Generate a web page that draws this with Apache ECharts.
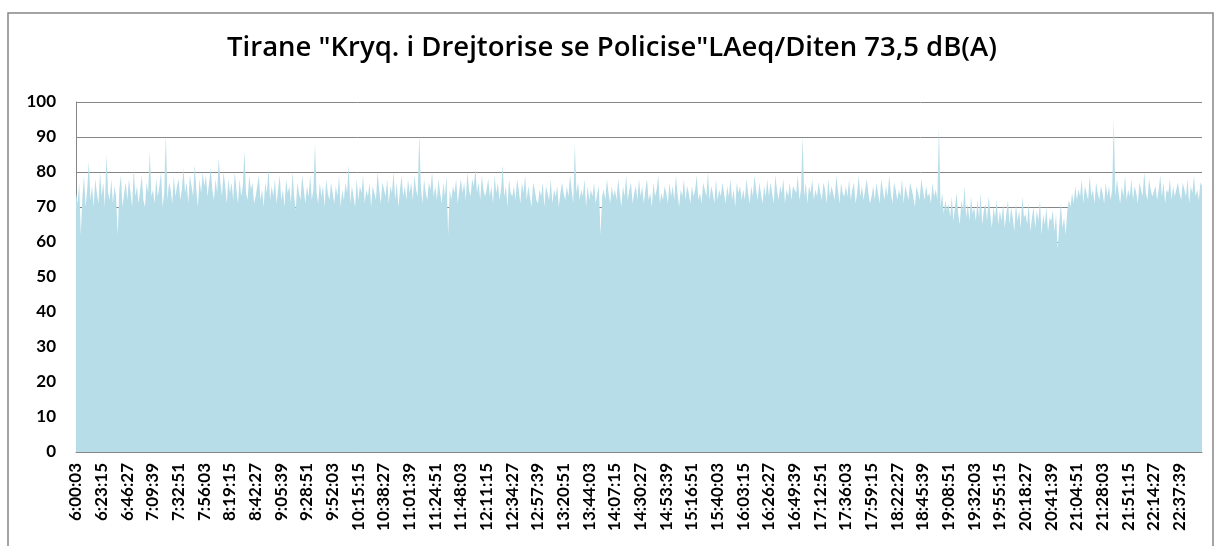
<!DOCTYPE html>
<html>
<head>
<meta charset="utf-8">
<script src="https://cdn.jsdelivr.net/npm/echarts@6/dist/echarts.min.js"></script>
<style>
  html, body { margin: 0; padding: 0; background: #fff; }
  #chart-container { width: 1224px; height: 546px; }
</style>
</head>
<body>
<div id="chart-container"></div>
<script>
const titleText = 'Tirane "Kryq. i Drejtorise se Policise"LAeq/Diten 73,5 dB(A)';

// one label every 16 samples (23:12 apart)
const tickLabels = [
  '6:00:03', '6:23:15', '6:46:27', '7:09:39', '7:32:51', '7:56:03', '8:19:15', '8:42:27',
  '9:05:39', '9:28:51', '9:52:03', '10:15:15', '10:38:27', '11:01:39', '11:24:51', '11:48:03',
  '12:11:15', '12:34:27', '12:57:39', '13:20:51', '13:44:03', '14:07:15', '14:30:27', '14:53:39',
  '15:16:51', '15:40:03', '16:03:15', '16:26:27', '16:49:39', '17:12:51', '17:36:03', '17:59:15',
  '18:22:27', '18:45:39', '19:08:51', '19:32:03', '19:55:15', '20:18:27', '20:41:39', '21:04:51',
  '21:28:03', '21:51:15', '22:14:27', '22:37:39'
];

// LAeq dB(A), one row per label interval
const levels = [
  74,71,77,62,73,79,70,75,83,72,76,70,78,74,71,80,
  73,77,70,85,74,72,78,71,76,73,62,75,79,70,74,77,
  72,78,74,70,81,73,76,71,75,79,72,70,77,74,86,73,
  75,71,78,73,76,80,70,74,91,72,77,75,71,79,73,76,
  78,72,75,81,74,77,71,79,76,73,82,75,70,78,74,80,
  76,79,73,77,81,75,72,78,74,84,77,73,80,76,71,78,
  74,77,72,80,75,71,78,73,76,86,74,72,79,75,77,71,
  73,76,79,72,75,70,77,74,81,72,76,73,78,71,75,79,
  72,75,70,78,74,76,71,80,73,69,77,74,72,79,75,71,
  76,73,79,72,75,88,74,71,77,73,76,70,78,74,72,77,
  74,71,76,73,79,70,75,72,77,74,82,71,76,73,70,78,
  72,76,74,79,71,75,73,77,70,76,74,72,80,75,71,77,
  75,73,78,71,76,74,80,72,77,70,75,79,73,76,72,78,
  74,77,72,79,75,73,91,76,71,78,74,72,77,75,80,73,
  76,72,78,74,71,77,73,79,62,75,72,76,74,78,71,75,
  78,74,77,72,80,75,73,78,76,81,74,77,72,79,75,73,
  75,78,73,76,71,79,74,77,72,75,82,73,76,70,78,74,
  73,76,72,78,75,71,77,74,79,72,76,73,70,77,75,72,
  71,75,73,77,70,76,74,72,78,71,75,73,76,70,74,77,
  74,72,76,73,79,75,71,88,74,77,72,75,73,78,70,76,
  72,75,73,77,71,74,76,62,73,75,72,78,74,71,76,73,
  75,72,78,74,70,76,73,79,72,75,77,71,74,76,72,78,
  73,76,71,75,78,72,74,70,77,73,75,79,71,74,72,76,
  74,71,77,73,76,72,79,74,70,75,73,78,72,76,74,71,
  76,73,75,79,72,74,71,77,75,73,80,72,76,74,71,78,
  72,75,73,77,74,71,76,73,78,72,75,70,77,74,76,72,
  75,72,78,74,71,76,73,79,75,72,77,74,71,76,73,78,
  73,77,74,71,79,75,72,76,74,78,71,75,73,77,72,76,
  76,74,79,72,75,90,73,77,71,76,74,78,72,75,73,77,
  74,72,77,75,71,78,73,76,74,72,79,75,71,77,74,73,
  76,73,78,72,75,77,71,74,79,73,76,72,75,78,74,71,
  73,76,72,77,74,71,78,75,72,76,73,79,74,71,77,75,
  72,75,73,78,71,76,74,72,77,75,73,70,76,74,72,78,
  75,72,76,73,74,71,77,73,75,72,93,70,74,68,72,69,
  71,67,73,66,70,74,68,65,72,69,76,67,71,66,73,68,
  70,66,72,67,74,65,69,71,66,73,68,64,70,67,72,65,
  69,66,71,64,68,72,65,70,67,63,71,66,69,64,73,67,
  68,65,71,63,67,70,64,69,66,72,62,68,65,70,63,67,
  66,69,63,68,58,65,71,64,67,62,69,72,70,74,71,76,
  72,75,73,78,71,76,74,72,79,73,75,71,77,74,72,76,
  74,71,77,73,76,72,75,95,73,78,74,71,76,73,79,72,
  75,73,78,72,76,74,71,77,75,73,80,74,72,78,75,73,
  73,76,72,75,79,73,77,71,75,74,78,72,76,73,75,77,
  74,72,77,75,73,78,71,76,74,79,73,75,72,77,76
];

const perLabel = 16;
const categories = levels.map((v, i) => (i % perLabel === 0 ? tickLabels[i / perLabel] : ''));

const start = () => {
  const chartDom = document.getElementById('chart-container');
  const myChart = echarts.init(chartDom, null, { renderer: 'canvas' });
  const labelFont = { fontFamily: 'Lato', fontWeight: 'bold', fontSize: 17, color: '#000' };
  const option = {
    animation: false,
    backgroundColor: '#fff',
    title: {
      text: titleText,
      left: 'center',
      top: 29,
      textStyle: { fontFamily: 'Open Sans', fontWeight: 600, fontSize: 27.5, color: '#000' }
    },
    graphic: [
      {
        type: 'rect',
        shape: { x: 8, y: 13, width: 1205, height: 560 },
        style: { fill: 'none', stroke: '#868686', lineWidth: 1.5 },
        silent: true
      }
    ],
    grid: { left: 76, right: 22, top: 102, bottom: 94 },
    xAxis: {
      type: 'category',
      data: categories,
      boundaryGap: false,
      axisLine: { lineStyle: { color: '#868686' } },
      axisTick: { show: false },
      axisLabel: Object.assign({ rotate: 90, interval: perLabel - 1, margin: 11 }, labelFont),
      splitLine: { show: false }
    },
    yAxis: {
      type: 'value',
      min: 0,
      max: 100,
      interval: 10,
      axisLine: { show: true, lineStyle: { color: '#868686' } },
      axisTick: { show: false },
      axisLabel: Object.assign({ margin: 20 }, labelFont),
      splitLine: { lineStyle: { color: '#868686', width: 1 } }
    },
    series: [
      {
        type: 'line',
        data: levels,
        symbol: 'none',
        sampling: null,
        lineStyle: { width: 0 },
        areaStyle: { color: '#B7DDE8', opacity: 1 },
        silent: true
      }
    ]
  };
  myChart.setOption(option);
};

start();
</script>
</body>
</html>
